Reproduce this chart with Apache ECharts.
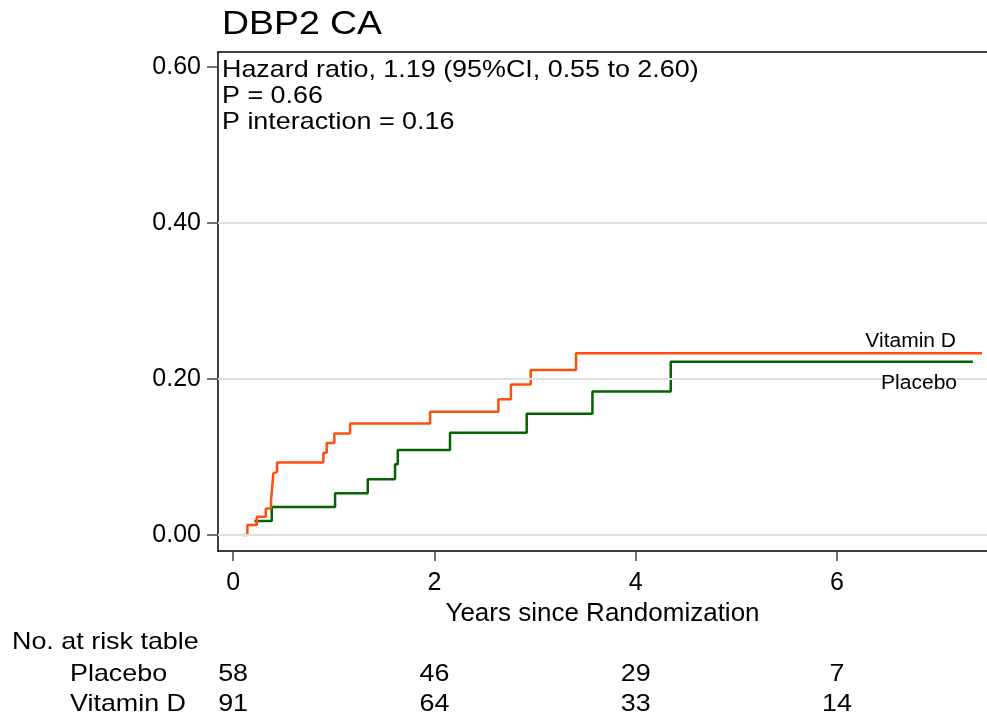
<!DOCTYPE html>
<html>
<head>
<meta charset="utf-8">
<script src="https://cdn.jsdelivr.net/npm/echarts@6/dist/echarts.min.js"></script>
<style>
  html, body { margin: 0; padding: 0; background: #fff; }
  #chart { width: 987px; height: 720px; }
</style>
</head>
<body>
<div id="chart"></div>
<script>
// cumulative incidence (years, proportion)
const vitDTimes = [0.10, 0.142, 0.235, 0.325, 0.377, 0.385, 0.393, 0.40, 0.41, 0.437, 0.897, 0.93, 1.006, 1.162, 1.957, 2.636, 2.76, 2.957, 3.407, 7.44]
const vitDRisk = [0, 0.0128, 0.0235, 0.034, 0.045, 0.056, 0.068, 0.079, 0.081, 0.093, 0.1055, 0.118, 0.130, 0.143, 0.158, 0.174, 0.193, 0.2115, 0.233, 0.233]
const placeboTimes = [0.212, 0.384, 1.013, 1.338, 1.609, 1.636, 2.155, 2.917, 3.57, 4.348, 7.35]
const placeboRisk = [0.018, 0.036, 0.0535, 0.0714, 0.0906, 0.109, 0.131, 0.1555, 0.184, 0.222, 0.222]

const xTicks = [0, 2, 4, 6]
const yTicks = [0, 0.2, 0.4, 0.6]
const gridValues = [0, 0.2, 0.4]

const riskTimes = [0, 2, 4, 6]
const placeboAtRisk = [58, 46, 29, 7]
const vitDAtRisk = [91, 64, 33, 14]

const statLines = ['Hazard ratio, 1.19 (95%CI, 0.55 to 2.60)', 'P = 0.66', 'P interaction = 0.16']

const FONT = '"Liberation Sans", Arial, sans-serif'
const STRETCH = 1.12
const ORANGE = '#ff4f0f'
const GREEN = '#006400'

const toPairs = (xs, ys) => xs.map((x, i) => [x, ys[i]])

const chart = echarts.init(document.getElementById('chart'))

const option = {
  animation: false,
  backgroundColor: '#fff',
  grid: {
    left: 218,
    top: 52,
    bottom: 169,
    right: 0
  },
  xAxis: [
    {
      type: 'value',
      min: -0.15,
      max: 7.49,
      name: 'Years since Randomization',
      nameLocation: 'middle',
      nameGap: 38,
      nameTextStyle: { fontFamily: FONT, fontSize: 26, color: '#000' },
      axisLine: { show: true, onZero: false, lineStyle: { color: '#000', width: 1.5 } },
      axisTick: { show: true, length: 10, customValues: xTicks, lineStyle: { color: '#444', width: 1.5 } },
      axisLabel: {
        customValues: xTicks,
        margin: 20,
        fontFamily: FONT,
        fontSize: 25,
        color: '#000',
        formatter: (v) => String(v)
      },
      splitLine: { show: false }
    },
    {
      // top frame line only
      type: 'value',
      position: 'top',
      min: -0.15,
      max: 7.49,
      axisLine: { show: true, onZero: false, lineStyle: { color: '#000', width: 1.5 } },
      axisTick: { show: false },
      axisLabel: { show: false },
      splitLine: { show: false }
    }
  ],
  yAxis: {
    type: 'value',
    min: -0.0205,
    max: 0.619,
    axisLine: { show: true, onZero: false, lineStyle: { color: '#000', width: 1.5 } },
    axisTick: { show: true, length: 11, customValues: yTicks, lineStyle: { color: '#444', width: 1.5 } },
    axisLabel: {
      customValues: yTicks,
      margin: 17,
      fontFamily: FONT,
      fontSize: 25,
      color: '#000',
      formatter: (v) => v.toFixed(2)
    },
    splitLine: { show: false }
  },
  series: [
    {
      name: 'grid',
      type: 'line',
      data: [],
      z: 1,
      silent: true,
      markLine: {
        silent: true,
        symbol: 'none',
        label: { show: false },
        lineStyle: { color: '#e0e0e0', width: 2, type: 'solid' },
        data: gridValues.map((v) => ({ yAxis: v }))
      }
    },
    {
      name: 'Placebo',
      type: 'line',
      step: 'end',
      z: 3,
      symbol: 'none',
      lineStyle: { color: GREEN, width: 2.5 },
      data: toPairs(placeboTimes, placeboRisk)
    },
    {
      name: 'Vitamin D',
      type: 'line',
      step: 'end',
      z: 4,
      symbol: 'none',
      lineStyle: { color: ORANGE, width: 2.5 },
      data: toPairs(vitDTimes, vitDRisk)
    }
  ]
}

chart.setOption(option)

function txt(x, y, text, size, align, stretch) {
  return {
    type: 'text',
    x: x,
    y: y,
    z: 100,
    scaleX: stretch || 1,
    silent: true,
    style: {
      text: text,
      fontFamily: FONT,
      fontSize: size,
      fill: '#000',
      align: align || 'left',
      verticalAlign: 'middle'
    }
  }
}

const graphics = []
graphics.push(txt(222, 25, 'DBP2 CA', 34, 'left', 1.1))
statLines.forEach((line, i) => graphics.push(txt(222, 70 + i * 26, line, 24, 'left', STRETCH)))
graphics.push(txt(956, 341, 'Vitamin D', 20, 'right', 1.05))
graphics.push(txt(957, 383, 'Placebo', 20, 'right', 1.05))

graphics.push(txt(12, 642, 'No. at risk table', 24, 'left', STRETCH))
graphics.push(txt(70, 674, 'Placebo', 24, 'left', STRETCH))
graphics.push(txt(70, 704, 'Vitamin D', 24, 'left', STRETCH))
riskTimes.forEach((t, i) => {
  const px = chart.convertToPixel({ xAxisIndex: 0 }, t)
  graphics.push(txt(px, 674, String(placeboAtRisk[i]), 24, 'center', STRETCH))
  graphics.push(txt(px, 704, String(vitDAtRisk[i]), 24, 'center', STRETCH))
})

chart.setOption({ graphic: graphics })
</script>
</body>
</html>
